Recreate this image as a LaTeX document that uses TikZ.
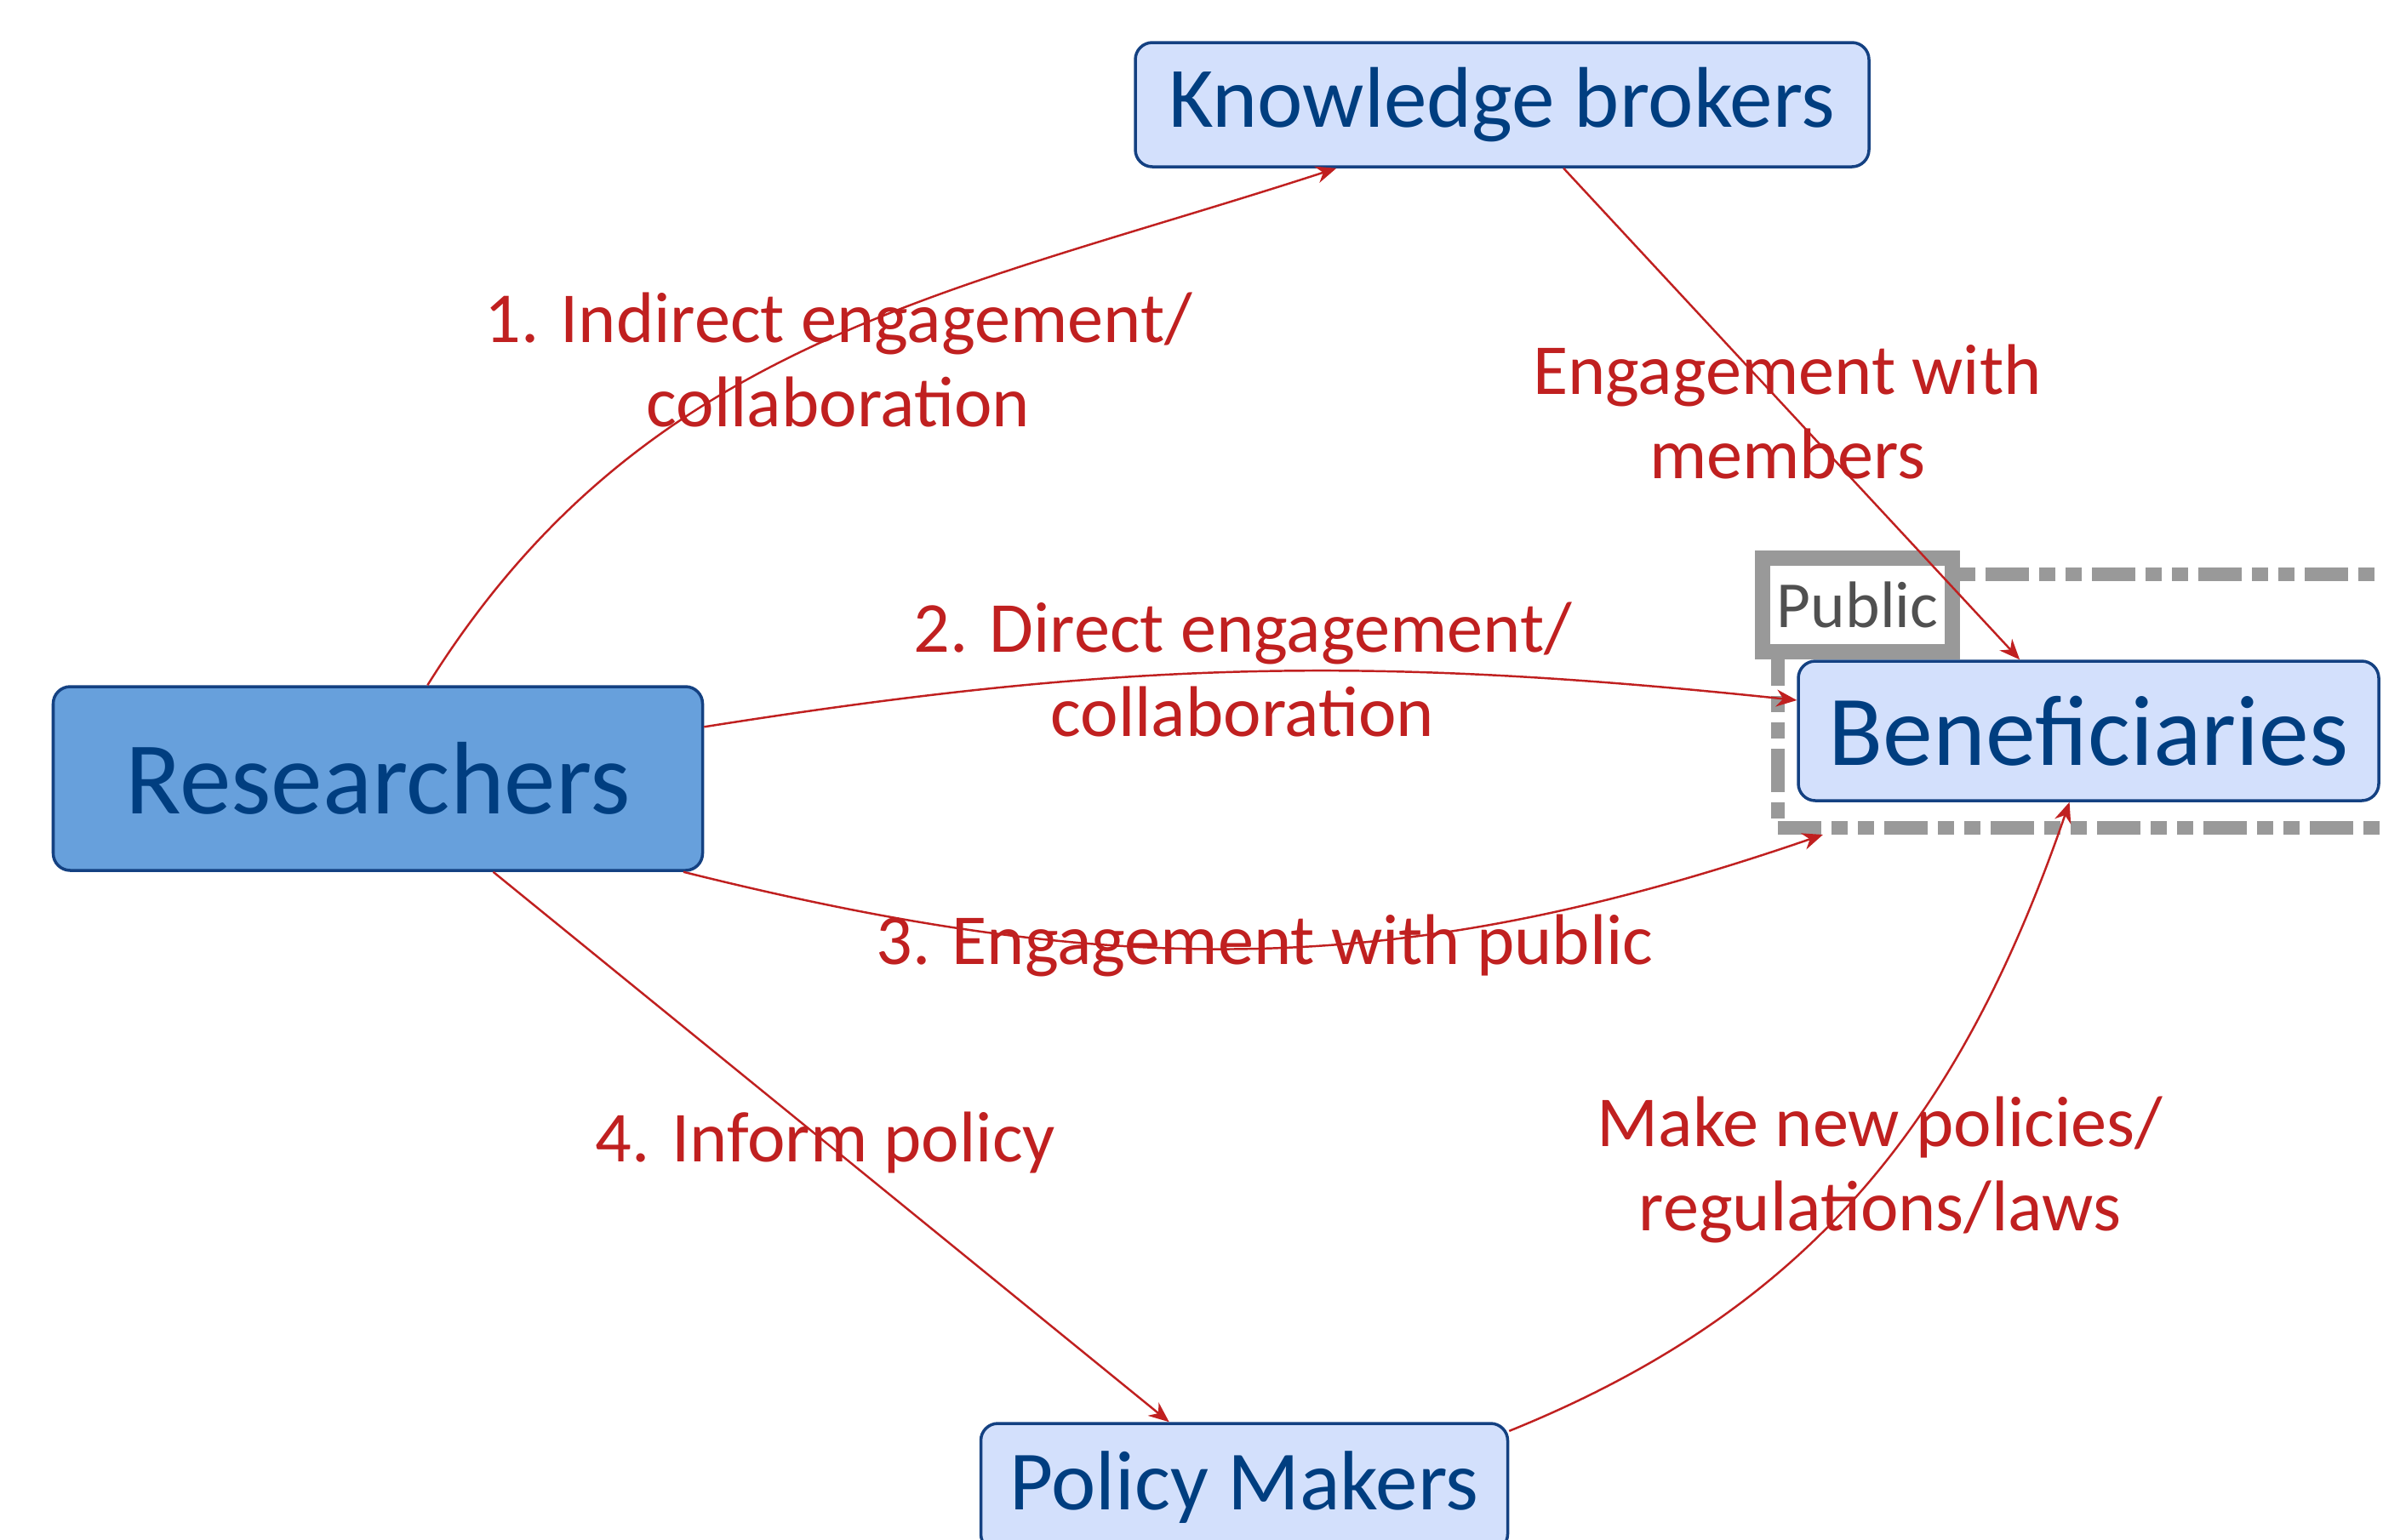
\documentclass[tikz,border=0pt]{standalone}
\usepackage{fontspec}
\setmainfont{Carlito}
\usetikzlibrary{arrows.meta}
\definecolor{lblred}{RGB}{192,32,32}
\definecolor{nodetext}{RGB}{0,62,128}
\definecolor{lightfill}{RGB}{211,224,252}
\definecolor{resfill}{RGB}{103,160,220}
\definecolor{nodeborder}{RGB}{20,65,130}
\definecolor{boxgray}{RGB}{153,153,153}
\definecolor{pubtext}{RGB}{80,80,80}
\tikzset{
  actor/.style={draw=nodeborder, line width=1pt, rounded corners=0.2cm, fill=lightfill,
    text=nodetext, inner sep=0pt},
  lbl/.style={text=lblred, align=center, inner sep=0pt,
    font=\fontsize{24}{28}\selectfont},
  conn/.style={draw=lblred, line width=0.7pt, -{Stealth[length=0.24cm,width=0.2cm]}}
}
\begin{document}
\begin{tikzpicture}
\clip (0,0) rectangle (28,-18.09);
\fill[white] (0,0) rectangle (28,-18.09);

% public area (dash-dot)
\node[draw=boxgray, line width=0.16cm, dash pattern=on 0.51cm off 0.12cm on 0.19cm off 0.12cm on 0.19cm off 0.12cm,
  minimum width=8.11cm, minimum height=2.98cm, inner sep=0pt] (pubarea) at (24.945,-8.24) {};
\node[draw=boxgray, line width=0.18cm, fill=white, minimum width=2.23cm, minimum height=1.10cm,
  inner sep=0pt, text=pubtext, font=\fontsize{22}{26}\selectfont] (pubtag) at (21.825,-7.11) {Public};

% actors
\node[actor, minimum width=8.62cm, minimum height=1.46cm, font=\fontsize{28.8}{32}\selectfont] (kb) at (17.65,-1.23) {Knowledge brokers};
\node[actor, fill=resfill, minimum width=7.63cm, minimum height=2.16cm, font=\fontsize{34.5}{38}\selectfont] (res) at (4.44,-9.15) {Researchers};
\node[actor, minimum width=6.82cm, minimum height=1.64cm, font=\fontsize{33.5}{37}\selectfont] (ben) at (24.54,-8.59) {Beneficiaries};
\node[actor, minimum width=6.19cm, minimum height=1.5cm, font=\fontsize{28.2}{32}\selectfont] (pm) at (14.62,-17.48) {Policy Makers};

% connectors
\draw[conn] (res.62.6) to[out=58, in=198] (kb.201);
\draw[conn] (kb.314.2) -- (ben.134);
\draw[conn] (res.9.4) to[out=9, in=174] (ben.174);
\draw[conn] (res.-17.5) to[out=-14, in=199] (pubarea.204.1);
\draw[conn] (res.-39.5) -- (pm.139.2);
\draw[conn] (pm.12.6) to[out=22, in=251] (ben.255);

% labels
\node[lbl] (l1) at (9.85,-4.23) {1. Indirect engagement/\\collaboration};
\node[lbl] (l2) at (21.00,-4.84) {Engagement with\\members};
\node[lbl] (l3) at (14.60,-7.87) {2. Direct engagement/\\collaboration};
\node[lbl] (l4) at (14.86,-11.11) {3. Engagement with public};
\node[lbl] (l5) at (9.70,-13.43) {4. Inform policy};
\node[lbl] (l6) at (22.09,-13.75) {Make new policies/\\regulations/laws};
\end{tikzpicture}
\end{document}
